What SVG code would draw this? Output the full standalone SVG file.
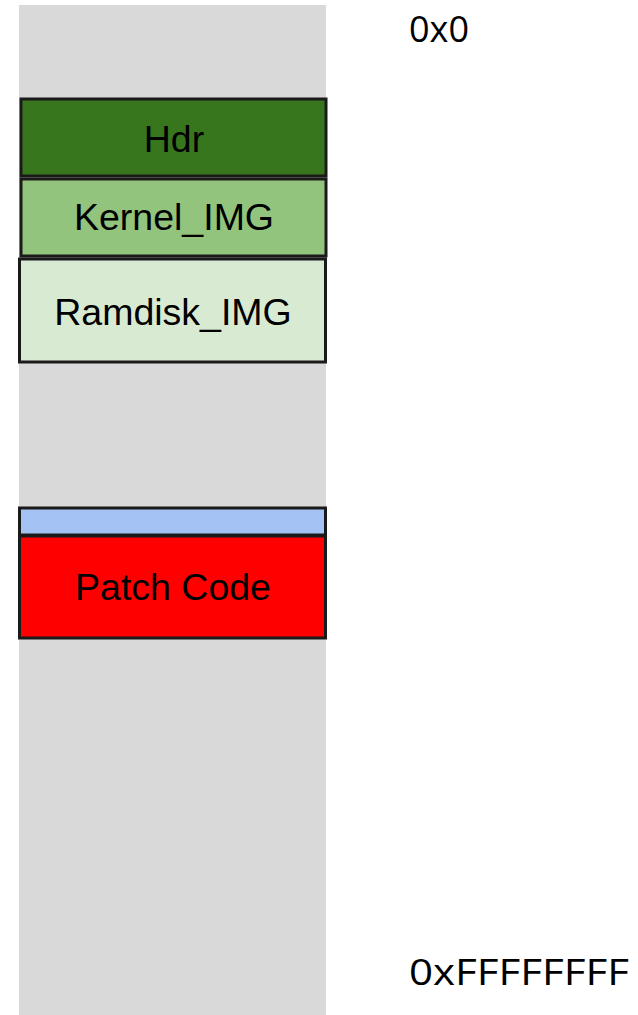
<svg xmlns="http://www.w3.org/2000/svg" width="638" height="1015" viewBox="0 0 638 1015">
<style>
.box{stroke:#1a1a1a;stroke-width:3}
.t{font-family:"Liberation Sans",Arial,sans-serif;font-size:37.5px;fill:#000;text-anchor:middle}
.addr{font-family:"Open Sans","Noto Sans",sans-serif;font-size:36px;fill:#000}
</style>
<rect x="19" y="5" width="307" height="1010" fill="#d9d9d9"/>
<g id="hdr"><rect class="box" x="21" y="99" width="305" height="77" fill="#38761d"/><text class="t" x="174" y="152">Hdr</text></g>
<g id="kernel"><rect class="box" x="21" y="179" width="305" height="77" fill="#93c47d"/><text class="t" x="174" y="230">Kernel_IMG</text></g>
<g id="ramdisk"><rect class="box" x="19.5" y="259" width="306" height="103" fill="#d9ead3"/><text class="t" x="173" y="325">Ramdisk_IMG</text></g>
<g id="blue"><rect class="box" x="19.5" y="508" width="306" height="27" fill="#a4c2f4"/></g>
<g id="patch"><rect class="box" x="19.5" y="536" width="306" height="102" fill="#ff0000"/><text class="t" x="173" y="600">Patch Code</text></g>
<g id="addr0"><text class="addr" x="409" y="42">0x0</text></g>
<g id="addrF"><text class="addr" x="409" y="985" textLength="220" lengthAdjust="spacingAndGlyphs">0xFFFFFFFF</text></g>
<g id="connectors"/>
</svg>
